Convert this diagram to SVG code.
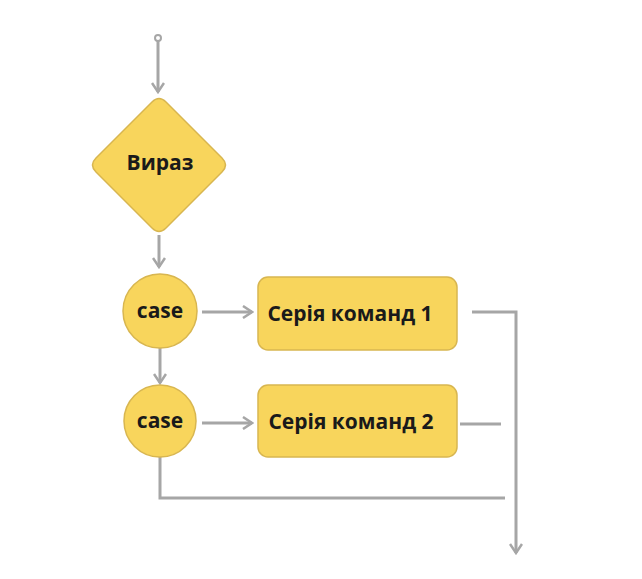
<svg xmlns="http://www.w3.org/2000/svg" width="642" height="579" viewBox="0 0 642 579">
<style>
.node{fill:#f8d55c;stroke:#d8b650;stroke-width:1.5}
.lbl{font-family:"Open Sans","Liberation Sans",sans-serif;font-weight:700;font-size:21px;fill:#1a1a1a;text-anchor:middle;dominant-baseline:central}
.c{fill:none;stroke:#a6a6a6;stroke-width:3}
</style>
<defs>
<marker id="ah" viewBox="0 0 14 14" refX="12" refY="7" markerWidth="14" markerHeight="14" markerUnits="userSpaceOnUse" orient="auto">
<path d="M3,1 L12,7 L3,13" fill="none" stroke="#a6a6a6" stroke-width="2.5"/>
</marker>
</defs>
<rect width="642" height="579" fill="#ffffff"/>
<g id="connectors">
<circle cx="158" cy="38" r="3" fill="#ffffff" stroke="#a6a6a6" stroke-width="2"/>
<path class="c" d="M158,41 V92" marker-end="url(#ah)"/>
<path class="c" d="M159,235 V267" marker-end="url(#ah)"/>
<path class="c" d="M160,348 V383" marker-end="url(#ah)"/>
<path class="c" d="M202,312 H252" marker-end="url(#ah)"/>
<path class="c" d="M202,423 H252" marker-end="url(#ah)"/>
<path class="c" d="M472,312 H516 V553" marker-end="url(#ah)"/>
<path class="c" d="M460,424 H501"/>
<path class="c" d="M160,457 V498 H505"/>
</g>
<g id="viraz">
<path class="node" d="M152,102 Q159,95 166,102 L222,158 Q229,165 222,172 L166,228 Q159,235 152,228 L96,172 Q89,165 96,158 Z"/>
<text class="lbl" x="160" y="162">Вираз</text>
</g>
<g id="case1">
<circle class="node" cx="160" cy="311" r="37"/>
<text class="lbl" x="160" y="310">case</text>
</g>
<g id="case2">
<circle class="node" cx="160" cy="421" r="36"/>
<text class="lbl" x="160" y="420">case</text>
</g>
<g id="series1">
<rect class="node" x="258" y="277" width="199" height="73" rx="10"/>
<text class="lbl" x="350" y="313">Серія команд 1</text>
</g>
<g id="series2">
<rect class="node" x="258" y="385" width="199" height="72" rx="10"/>
<text class="lbl" x="351" y="421">Серія команд 2</text>
</g>
</svg>
